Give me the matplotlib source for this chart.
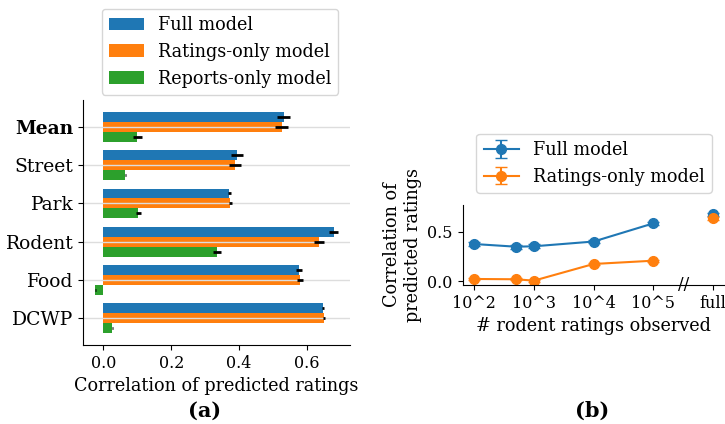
import matplotlib.pyplot as plt
import numpy as np

plt.rcParams['font.family'] = ['DejaVu Serif']

# Panel (a): correlation per complaint type
categories = ['Mean', 'Street', 'Park', 'Rodent', 'Food', 'DCWP']
full_corr = [0.531, 0.393, 0.371, 0.678, 0.576, 0.647]
full_err = [0.019, 0.018, 0.004, 0.012, 0.009, 0.002]
ratings_corr = [0.526, 0.388, 0.374, 0.635, 0.579, 0.650]
ratings_err = [0.019, 0.018, 0.004, 0.015, 0.009, 0.002]
reports_corr = [0.100, 0.065, 0.103, 0.335, -0.024, 0.026]
reports_err = [0.013, 0.002, 0.007, 0.011, 0.002, 0.002]

# Panel (b): rodent ratings observed (log10 of count; "full" placed at 6)
obs_pos = [2, 2.7, 3, 4, 5]
obs_full_pos = 6
full_by_obs = [0.375, 0.348, 0.352, 0.400, 0.583]
full_by_obs_err = [0.02, 0.02, 0.02, 0.015, 0.015]
full_at_full = 0.677
ratings_by_obs = [0.023, 0.020, 0.006, 0.174, 0.207]
ratings_by_obs_err = [0.01, 0.01, 0.01, 0.01, 0.01]
ratings_at_full = 0.634
obs_ticks = [2, 3, 4, 5, 6]
obs_labels = ['10^2', '10^3', '10^4', '10^5', 'full']

blue, orange, green = '#1f77b4', '#ff7f0e', '#2ca02c'
fs = 12.7

fig = plt.figure(figsize=(7.25, 4.24), dpi=100)

# ---- (a) horizontal grouped bars
ax1 = fig.add_axes([0.1145, 0.186, 0.3685, 0.578])
y = np.arange(len(categories))
h = 0.26
err_kw = dict(ecolor='black', elinewidth=2, capsize=0)
b1 = ax1.barh(y - h, full_corr, h, xerr=full_err, color=blue, error_kw=err_kw, label='Full model')
b2 = ax1.barh(y, ratings_corr, h, xerr=ratings_err, color=orange, error_kw=err_kw, label='Ratings-only model')
b3 = ax1.barh(y + h, reports_corr, h, xerr=reports_err, color=green, error_kw=err_kw, label='Reports-only model')
ax1.set_yticks(y)
ax1.set_yticklabels(categories, fontsize=13.5)
ax1.get_yticklabels()[0].set_fontweight('bold')
ax1.set_ylim(len(categories) - 0.3, -0.7)
ax1.set_xlim(-0.06, 0.727)
ax1.set_xticks([0.0, 0.2, 0.4, 0.6])
ax1.tick_params(axis='x', labelsize=11.5)
ax1.grid(axis='y', color='#dddddd', linewidth=1)
ax1.spines['top'].set_visible(False)
ax1.spines['right'].set_visible(False)
ax1.set_xlabel('Correlation of predicted ratings', fontsize=fs)
fig.legend(handles=[b1, b2, b3], loc='upper left', bbox_to_anchor=(0.128, 1.0),
           fontsize=fs, frameon=True, handlelength=2, borderpad=0.4)

# ---- (b) correlation vs number of observed ratings
ax2 = fig.add_axes([0.638, 0.328, 0.362, 0.189])
e1 = ax2.errorbar(obs_pos, full_by_obs, yerr=full_by_obs_err, color=blue, marker='o',
                  markersize=7, capsize=4, linewidth=1.5, label='Full model')
ax2.errorbar([obs_full_pos], [full_at_full], yerr=[0.015], color=blue, marker='o',
             markersize=7, capsize=4, linewidth=1.5)
e2 = ax2.errorbar(obs_pos, ratings_by_obs, yerr=ratings_by_obs_err, color=orange, marker='o',
                  markersize=7, capsize=4, linewidth=1.5, label='Ratings-only model')
ax2.errorbar([obs_full_pos], [ratings_at_full], yerr=[0.015], color=orange, marker='o',
             markersize=7, capsize=4, linewidth=1.5)
ax2.set_xlim(1.806, 6.2)
ax2.set_ylim(-0.037, 0.77)
ax2.set_yticks([0.0, 0.5])
ax2.set_xticks(obs_ticks)
ax2.set_xticklabels(obs_labels)
ax2.tick_params(labelsize=11.5)
ax2.spines['top'].set_visible(False)
ax2.spines['right'].set_visible(False)
ax2.text(5.5, -0.037, '//', ha='center', va='center', fontsize=12, clip_on=False)
ax2.set_xlabel('# rodent ratings observed', fontsize=fs)
ax2.set_ylabel('Correlation of\npredicted ratings', fontsize=fs)
fig.legend(handles=[e1, e2], loc='upper left', bbox_to_anchor=(0.645, 0.705),
           fontsize=fs, frameon=True, borderpad=0.4)

fig.text(0.282, 0.018, '(a)', ha='center', fontsize=15, fontweight='bold')
fig.text(0.817, 0.018, '(b)', ha='center', fontsize=15, fontweight='bold')

fig.savefig('out.png', dpi=100)
